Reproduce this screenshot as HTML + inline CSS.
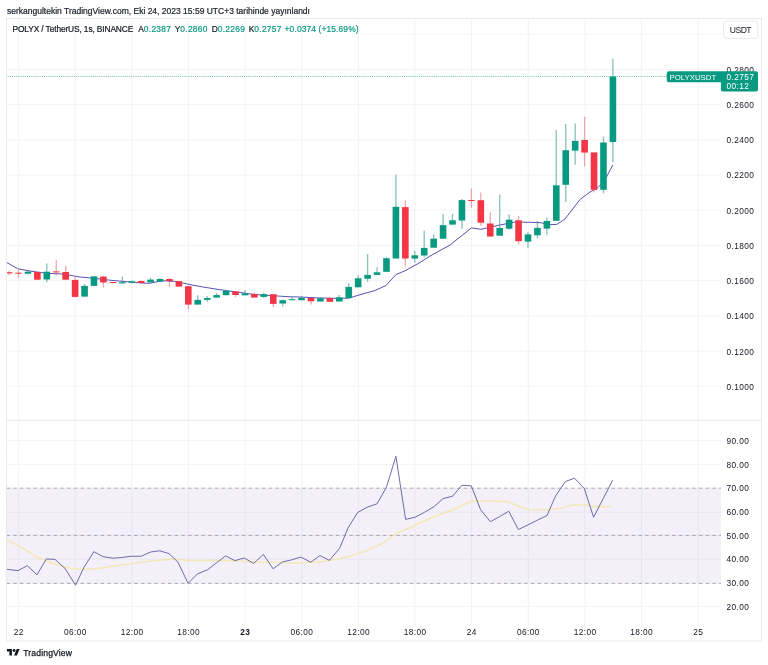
<!DOCTYPE html>
<html><head><meta charset="utf-8"><style>
svg{will-change:transform}
html,body{margin:0;padding:0;background:#fff;width:768px;height:665px;overflow:hidden;position:relative}
.t{position:absolute;font-family:"Liberation Sans",sans-serif;white-space:nowrap;color:#131722}
.g{color:#089981}
</style></head><body>
<svg width="768" height="665" viewBox="0 0 768 665" style="position:absolute;left:0;top:0"><defs><clipPath id="pc"><rect x="7" y="18.5" width="714" height="401.8"/></clipPath><clipPath id="rc"><rect x="7" y="420.3" width="714" height="203.7"/></clipPath></defs><g stroke="#f3f3f3" stroke-width="1"><line x1="18.60" y1="18.5" x2="18.60" y2="626"/><line x1="75.23" y1="18.5" x2="75.23" y2="626"/><line x1="131.86" y1="18.5" x2="131.86" y2="626"/><line x1="188.49" y1="18.5" x2="188.49" y2="626"/><line x1="245.12" y1="18.5" x2="245.12" y2="626"/><line x1="301.75" y1="18.5" x2="301.75" y2="626"/><line x1="358.38" y1="18.5" x2="358.38" y2="626"/><line x1="415.01" y1="18.5" x2="415.01" y2="626"/><line x1="471.64" y1="18.5" x2="471.64" y2="626"/><line x1="528.27" y1="18.5" x2="528.27" y2="626"/><line x1="584.90" y1="18.5" x2="584.90" y2="626"/><line x1="641.53" y1="18.5" x2="641.53" y2="626"/><line x1="698.16" y1="18.5" x2="698.16" y2="626"/><line x1="7" y1="386.30" x2="721" y2="386.30"/><line x1="7" y1="351.10" x2="721" y2="351.10"/><line x1="7" y1="315.90" x2="721" y2="315.90"/><line x1="7" y1="280.70" x2="721" y2="280.70"/><line x1="7" y1="245.50" x2="721" y2="245.50"/><line x1="7" y1="210.30" x2="721" y2="210.30"/><line x1="7" y1="175.10" x2="721" y2="175.10"/><line x1="7" y1="139.90" x2="721" y2="139.90"/><line x1="7" y1="104.70" x2="721" y2="104.70"/><line x1="7" y1="69.50" x2="721" y2="69.50"/><line x1="362" y1="34.30" x2="721" y2="34.30"/><line x1="7" y1="606.40" x2="721" y2="606.40"/><line x1="7" y1="583.40" x2="721" y2="583.40"/><line x1="7" y1="559.10" x2="721" y2="559.10"/><line x1="7" y1="535.40" x2="721" y2="535.40"/><line x1="7" y1="512.20" x2="721" y2="512.20"/><line x1="7" y1="488.20" x2="721" y2="488.20"/><line x1="7" y1="464.40" x2="721" y2="464.40"/><line x1="7" y1="440.60" x2="721" y2="440.60"/></g><rect x="7" y="488.20" width="714" height="95.20" fill="#7e57c2" fill-opacity="0.09"/><g stroke="#787b86" stroke-opacity="0.6" stroke-width="1" stroke-dasharray="3.4 3.322" stroke-dashoffset="0.4"><line x1="7" y1="488.20" x2="721" y2="488.20"/><line x1="7" y1="535.40" x2="721" y2="535.40"/><line x1="7" y1="583.40" x2="721" y2="583.40"/></g><line x1="7" y1="76.5" x2="721" y2="76.5" stroke="#089981" stroke-opacity="0.6" stroke-width="1" stroke-dasharray="1 1.13" stroke-dashoffset="1.43"/><polyline clip-path="url(#pc)" points="6.80,262.50 17.70,268.75 30.00,271.00 40.00,272.50 50.00,273.50 60.00,273.80 70.00,275.30 80.00,277.00 90.00,277.90 100.00,279.00 110.00,280.20 122.00,281.30 130.00,282.00 140.00,282.90 149.40,283.40 158.75,281.40 164.00,280.80 174.40,281.40 182.70,283.00 192.00,285.00 202.50,286.90 213.00,288.60 220.00,289.70 240.00,292.50 255.00,294.50 270.00,295.50 290.00,296.80 300.00,297.00 320.00,298.00 340.00,298.40 349.00,298.10 360.00,294.70 375.00,290.50 386.00,285.50 396.00,274.50 405.00,270.80 420.00,262.50 430.00,256.00 450.00,245.00 471.40,227.90 481.00,229.30 500.00,225.00 515.00,222.00 530.00,222.30 540.00,222.60 550.00,224.70 557.00,224.30 565.00,219.00 580.00,199.50 590.00,192.00 598.00,187.50 605.00,180.00 612.70,165.00" fill="none" stroke="#5a52b4" stroke-width="1" stroke-linejoin="round"/><g clip-path="url(#pc)"><line x1="9.07" y1="270.8" x2="9.07" y2="275" stroke="#e0606e" stroke-opacity="0.55" stroke-width="1.3"/><rect x="5.77" y="272.2" width="6.6" height="1.20" fill="#f23645"/><line x1="18.51" y1="270.3" x2="18.51" y2="277.6" stroke="#e0606e" stroke-opacity="0.55" stroke-width="1.3"/><rect x="15.21" y="272.7" width="6.6" height="1.00" fill="#f23645"/><line x1="27.94" y1="271" x2="27.94" y2="274.5" stroke="#3f9a8a" stroke-opacity="0.62" stroke-width="1.3"/><rect x="24.64" y="271.7" width="6.6" height="2.00" fill="#089981"/><line x1="37.38" y1="271.9" x2="37.38" y2="279.7" stroke="#e0606e" stroke-opacity="0.55" stroke-width="1.3"/><rect x="34.08" y="271.9" width="6.6" height="7.80" fill="#f23645"/><line x1="46.81" y1="263.5" x2="46.81" y2="282.3" stroke="#3f9a8a" stroke-opacity="0.62" stroke-width="1.3"/><rect x="43.51" y="271.7" width="6.6" height="7.80" fill="#089981"/><line x1="56.25" y1="259.9" x2="56.25" y2="275.5" stroke="#e0606e" stroke-opacity="0.55" stroke-width="1.3"/><rect x="52.95" y="271.4" width="6.6" height="1.00" fill="#f23645"/><line x1="65.68" y1="265.8" x2="65.68" y2="279.7" stroke="#e0606e" stroke-opacity="0.55" stroke-width="1.3"/><rect x="62.38" y="272" width="6.6" height="7.70" fill="#f23645"/><line x1="75.12" y1="276" x2="75.12" y2="297.4" stroke="#e0606e" stroke-opacity="0.55" stroke-width="1.3"/><rect x="71.82" y="279.9" width="6.6" height="17.00" fill="#f23645"/><line x1="84.55" y1="283.9" x2="84.55" y2="296.6" stroke="#3f9a8a" stroke-opacity="0.62" stroke-width="1.3"/><rect x="81.25" y="285.9" width="6.6" height="10.70" fill="#089981"/><line x1="93.99" y1="276.2" x2="93.99" y2="286" stroke="#3f9a8a" stroke-opacity="0.62" stroke-width="1.3"/><rect x="90.69" y="276.4" width="6.6" height="9.50" fill="#089981"/><line x1="103.42" y1="275.5" x2="103.42" y2="287.5" stroke="#e0606e" stroke-opacity="0.55" stroke-width="1.3"/><rect x="100.12" y="276.6" width="6.6" height="5.90" fill="#f23645"/><line x1="112.86" y1="282" x2="112.86" y2="283" stroke="#e0606e" stroke-opacity="0.55" stroke-width="1.3"/><rect x="109.56" y="282" width="6.6" height="1.00" fill="#f23645"/><line x1="122.29" y1="276.6" x2="122.29" y2="283.5" stroke="#3f9a8a" stroke-opacity="0.62" stroke-width="1.3"/><rect x="118.99" y="282.3" width="6.6" height="1.20" fill="#089981"/><line x1="131.72" y1="280.5" x2="131.72" y2="283.3" stroke="#3f9a8a" stroke-opacity="0.62" stroke-width="1.3"/><rect x="128.42" y="281.3" width="6.6" height="1.50" fill="#089981"/><line x1="141.16" y1="280.5" x2="141.16" y2="283.5" stroke="#e0606e" stroke-opacity="0.55" stroke-width="1.3"/><rect x="137.86" y="281" width="6.6" height="2.00" fill="#f23645"/><line x1="150.59" y1="277.9" x2="150.59" y2="282.4" stroke="#3f9a8a" stroke-opacity="0.62" stroke-width="1.3"/><rect x="147.29" y="279.6" width="6.6" height="2.80" fill="#089981"/><line x1="160.03" y1="278" x2="160.03" y2="281.6" stroke="#3f9a8a" stroke-opacity="0.62" stroke-width="1.3"/><rect x="156.73" y="279" width="6.6" height="2.60" fill="#089981"/><line x1="169.47" y1="278.2" x2="169.47" y2="286.9" stroke="#e0606e" stroke-opacity="0.55" stroke-width="1.3"/><rect x="166.16" y="279" width="6.6" height="2.10" fill="#f23645"/><line x1="178.90" y1="281.1" x2="178.90" y2="286.6" stroke="#e0606e" stroke-opacity="0.55" stroke-width="1.3"/><rect x="175.60" y="281.1" width="6.6" height="5.50" fill="#f23645"/><line x1="188.34" y1="286" x2="188.34" y2="309.5" stroke="#e0606e" stroke-opacity="0.55" stroke-width="1.3"/><rect x="185.03" y="286.25" width="6.6" height="18.35" fill="#f23645"/><line x1="197.77" y1="295.2" x2="197.77" y2="304.6" stroke="#3f9a8a" stroke-opacity="0.62" stroke-width="1.3"/><rect x="194.47" y="299.9" width="6.6" height="4.70" fill="#089981"/><line x1="207.21" y1="296" x2="207.21" y2="301.7" stroke="#3f9a8a" stroke-opacity="0.62" stroke-width="1.3"/><rect x="203.91" y="298" width="6.6" height="1.90" fill="#089981"/><line x1="216.64" y1="293.1" x2="216.64" y2="297.6" stroke="#3f9a8a" stroke-opacity="0.62" stroke-width="1.3"/><rect x="213.34" y="295.1" width="6.6" height="2.50" fill="#089981"/><line x1="226.08" y1="290.3" x2="226.08" y2="295.2" stroke="#3f9a8a" stroke-opacity="0.62" stroke-width="1.3"/><rect x="222.78" y="290.8" width="6.6" height="4.40" fill="#089981"/><line x1="235.51" y1="291.4" x2="235.51" y2="296.9" stroke="#e0606e" stroke-opacity="0.55" stroke-width="1.3"/><rect x="232.21" y="291.4" width="6.6" height="3.60" fill="#f23645"/><line x1="244.94" y1="290" x2="244.94" y2="295.3" stroke="#3f9a8a" stroke-opacity="0.62" stroke-width="1.3"/><rect x="241.64" y="293.4" width="6.6" height="1.90" fill="#089981"/><line x1="254.38" y1="292.4" x2="254.38" y2="297.6" stroke="#e0606e" stroke-opacity="0.55" stroke-width="1.3"/><rect x="251.08" y="294" width="6.6" height="3.60" fill="#f23645"/><line x1="263.81" y1="292.4" x2="263.81" y2="298.1" stroke="#3f9a8a" stroke-opacity="0.62" stroke-width="1.3"/><rect x="260.51" y="294.2" width="6.6" height="2.70" fill="#089981"/><line x1="273.25" y1="294.2" x2="273.25" y2="307" stroke="#e0606e" stroke-opacity="0.55" stroke-width="1.3"/><rect x="269.95" y="294.2" width="6.6" height="9.70" fill="#f23645"/><line x1="282.69" y1="299.7" x2="282.69" y2="306.5" stroke="#3f9a8a" stroke-opacity="0.62" stroke-width="1.3"/><rect x="279.38" y="300.2" width="6.6" height="3.30" fill="#089981"/><line x1="292.12" y1="296.6" x2="292.12" y2="300.2" stroke="#3f9a8a" stroke-opacity="0.62" stroke-width="1.3"/><rect x="288.82" y="299.2" width="6.6" height="1.00" fill="#089981"/><line x1="301.56" y1="295.8" x2="301.56" y2="300.2" stroke="#3f9a8a" stroke-opacity="0.62" stroke-width="1.3"/><rect x="298.25" y="297.9" width="6.6" height="2.30" fill="#089981"/><line x1="310.99" y1="297.9" x2="310.99" y2="304.4" stroke="#e0606e" stroke-opacity="0.55" stroke-width="1.3"/><rect x="307.69" y="297.9" width="6.6" height="3.35" fill="#f23645"/><line x1="320.43" y1="297.5" x2="320.43" y2="301.5" stroke="#3f9a8a" stroke-opacity="0.62" stroke-width="1.3"/><rect x="317.12" y="298.3" width="6.6" height="3.20" fill="#089981"/><line x1="329.86" y1="297.3" x2="329.86" y2="301.8" stroke="#e0606e" stroke-opacity="0.55" stroke-width="1.3"/><rect x="326.56" y="298.1" width="6.6" height="3.70" fill="#f23645"/><line x1="339.30" y1="295" x2="339.30" y2="301.5" stroke="#3f9a8a" stroke-opacity="0.62" stroke-width="1.3"/><rect x="336.00" y="297.3" width="6.6" height="4.20" fill="#089981"/><line x1="348.73" y1="283.3" x2="348.73" y2="298.1" stroke="#3f9a8a" stroke-opacity="0.62" stroke-width="1.3"/><rect x="345.43" y="286.9" width="6.6" height="11.20" fill="#089981"/><line x1="358.17" y1="275.3" x2="358.17" y2="287.3" stroke="#3f9a8a" stroke-opacity="0.62" stroke-width="1.3"/><rect x="354.87" y="278.3" width="6.6" height="9.00" fill="#089981"/><line x1="367.60" y1="254" x2="367.60" y2="281.7" stroke="#3f9a8a" stroke-opacity="0.62" stroke-width="1.3"/><rect x="364.30" y="274.9" width="6.6" height="3.85" fill="#089981"/><line x1="377.04" y1="267.3" x2="377.04" y2="274.9" stroke="#3f9a8a" stroke-opacity="0.62" stroke-width="1.3"/><rect x="373.74" y="272.3" width="6.6" height="2.60" fill="#089981"/><line x1="386.47" y1="257.2" x2="386.47" y2="271.8" stroke="#3f9a8a" stroke-opacity="0.62" stroke-width="1.3"/><rect x="383.17" y="258.2" width="6.6" height="13.60" fill="#089981"/><line x1="395.91" y1="174.8" x2="395.91" y2="258.5" stroke="#3f9a8a" stroke-opacity="0.62" stroke-width="1.3"/><rect x="392.61" y="206.8" width="6.6" height="51.70" fill="#089981"/><line x1="405.34" y1="200.3" x2="405.34" y2="266.6" stroke="#e0606e" stroke-opacity="0.55" stroke-width="1.3"/><rect x="402.04" y="207.1" width="6.6" height="51.40" fill="#f23645"/><line x1="414.78" y1="250.7" x2="414.78" y2="262.4" stroke="#3f9a8a" stroke-opacity="0.62" stroke-width="1.3"/><rect x="411.48" y="255.3" width="6.6" height="3.30" fill="#089981"/><line x1="424.21" y1="230.4" x2="424.21" y2="257.6" stroke="#3f9a8a" stroke-opacity="0.62" stroke-width="1.3"/><rect x="420.91" y="247.9" width="6.6" height="7.60" fill="#089981"/><line x1="433.65" y1="234.2" x2="433.65" y2="247.7" stroke="#3f9a8a" stroke-opacity="0.62" stroke-width="1.3"/><rect x="430.35" y="238.7" width="6.6" height="9.00" fill="#089981"/><line x1="443.08" y1="213.9" x2="443.08" y2="238.7" stroke="#3f9a8a" stroke-opacity="0.62" stroke-width="1.3"/><rect x="439.78" y="225.15" width="6.6" height="13.55" fill="#089981"/><line x1="452.52" y1="214.1" x2="452.52" y2="224.6" stroke="#3f9a8a" stroke-opacity="0.62" stroke-width="1.3"/><rect x="449.22" y="220.3" width="6.6" height="4.30" fill="#089981"/><line x1="461.95" y1="199" x2="461.95" y2="228.7" stroke="#3f9a8a" stroke-opacity="0.62" stroke-width="1.3"/><rect x="458.65" y="200.1" width="6.6" height="20.40" fill="#089981"/><line x1="471.38" y1="188.4" x2="471.38" y2="207.7" stroke="#e0606e" stroke-opacity="0.55" stroke-width="1.3"/><rect x="468.08" y="200" width="6.6" height="1.00" fill="#f23645"/><line x1="480.82" y1="192.6" x2="480.82" y2="225.7" stroke="#e0606e" stroke-opacity="0.55" stroke-width="1.3"/><rect x="477.52" y="200.2" width="6.6" height="22.50" fill="#f23645"/><line x1="490.25" y1="212.2" x2="490.25" y2="236.5" stroke="#e0606e" stroke-opacity="0.55" stroke-width="1.3"/><rect x="486.95" y="223.5" width="6.6" height="13.00" fill="#f23645"/><line x1="499.69" y1="194.4" x2="499.69" y2="235.7" stroke="#3f9a8a" stroke-opacity="0.62" stroke-width="1.3"/><rect x="496.39" y="227.9" width="6.6" height="7.80" fill="#089981"/><line x1="509.12" y1="214.3" x2="509.12" y2="229.9" stroke="#3f9a8a" stroke-opacity="0.62" stroke-width="1.3"/><rect x="505.82" y="219.7" width="6.6" height="9.00" fill="#089981"/><line x1="518.56" y1="216.1" x2="518.56" y2="244.4" stroke="#e0606e" stroke-opacity="0.55" stroke-width="1.3"/><rect x="515.26" y="220.3" width="6.6" height="20.90" fill="#f23645"/><line x1="528.00" y1="232.1" x2="528.00" y2="247.9" stroke="#3f9a8a" stroke-opacity="0.62" stroke-width="1.3"/><rect x="524.70" y="234.4" width="6.6" height="7.20" fill="#089981"/><line x1="537.43" y1="221" x2="537.43" y2="238.4" stroke="#3f9a8a" stroke-opacity="0.62" stroke-width="1.3"/><rect x="534.13" y="227.9" width="6.6" height="7.40" fill="#089981"/><line x1="546.87" y1="217.4" x2="546.87" y2="234.7" stroke="#3f9a8a" stroke-opacity="0.62" stroke-width="1.3"/><rect x="543.57" y="221" width="6.6" height="7.60" fill="#089981"/><line x1="556.30" y1="130" x2="556.30" y2="220.8" stroke="#3f9a8a" stroke-opacity="0.62" stroke-width="1.3"/><rect x="553.00" y="185.3" width="6.6" height="35.50" fill="#089981"/><line x1="565.74" y1="124" x2="565.74" y2="202.1" stroke="#3f9a8a" stroke-opacity="0.62" stroke-width="1.3"/><rect x="562.44" y="150.2" width="6.6" height="34.60" fill="#089981"/><line x1="575.17" y1="123.5" x2="575.17" y2="164.8" stroke="#3f9a8a" stroke-opacity="0.62" stroke-width="1.3"/><rect x="571.87" y="140.9" width="6.6" height="9.70" fill="#089981"/><line x1="584.61" y1="116.8" x2="584.61" y2="166.6" stroke="#e0606e" stroke-opacity="0.55" stroke-width="1.3"/><rect x="581.31" y="140" width="6.6" height="12.60" fill="#f23645"/><line x1="594.04" y1="152.4" x2="594.04" y2="192.6" stroke="#e0606e" stroke-opacity="0.55" stroke-width="1.3"/><rect x="590.74" y="152.4" width="6.6" height="37.40" fill="#f23645"/><line x1="603.48" y1="136.4" x2="603.48" y2="193.2" stroke="#3f9a8a" stroke-opacity="0.62" stroke-width="1.3"/><rect x="600.18" y="142.5" width="6.6" height="47.30" fill="#089981"/><line x1="612.91" y1="58.7" x2="612.91" y2="162.1" stroke="#3f9a8a" stroke-opacity="0.62" stroke-width="1.3"/><rect x="609.61" y="76.5" width="6.6" height="65.50" fill="#089981"/></g><g clip-path="url(#rc)"><polyline points="6.90,539.60 21.70,547.70 36.10,556.70 54.20,564.00 72.20,568.80 86.60,569.40 101.00,568.00 110.00,566.60 125.60,564.50 141.25,562.20 156.90,560.60 172.50,559.00 188.00,560.60 203.75,560.60 219.40,560.30 235.60,561.00 251.25,561.90 266.90,562.20 282.50,562.50 298.00,563.00 320.00,561.90 340.00,558.75 348.00,556.85 366.00,551.00 384.10,542.60 395.40,533.60 409.00,528.00 424.70,520.80 442.80,513.30 452.50,510.00 471.25,501.00 486.90,501.00 507.20,501.40 526.00,509.20 549.40,509.70 560.00,508.40 572.50,504.90 585.60,504.90 598.60,506.90 611.60,506.20" fill="none" stroke="#f5dc50" stroke-opacity="0.4" stroke-width="1.5" stroke-linejoin="round"/><polyline points="0.00,568.50 9.07,569.60 18.00,570.60 27.40,565.70 37.00,574.80 46.40,558.90 55.00,559.40 65.00,568.40 75.50,585.20 83.90,567.50 93.90,551.70 103.20,556.70 112.80,558.20 121.70,557.50 131.10,556.25 141.25,556.25 150.60,552.00 159.70,550.80 169.00,553.60 178.00,562.20 188.10,583.30 197.50,573.90 207.70,569.70 216.25,563.00 225.60,555.90 234.80,560.60 244.20,558.00 253.60,563.40 263.40,554.40 273.10,568.75 282.50,561.90 291.90,559.80 300.90,557.00 310.60,562.20 320.00,555.60 329.40,560.30 339.50,548.50 348.00,528.00 357.50,512.60 367.20,507.20 377.00,503.80 386.40,487.40 395.90,456.30 405.60,519.40 415.30,517.10 424.70,512.20 434.20,506.50 443.20,498.50 452.50,496.25 461.90,485.30 471.25,485.80 480.60,509.70 490.30,521.70 499.70,516.50 508.75,511.25 518.40,529.50 527.90,524.90 537.70,520.00 547.00,515.50 555.60,495.90 565.40,481.50 574.50,478.20 584.30,488.60 593.60,517.30 603.70,497.60 612.70,480.20" fill="none" stroke="#7069a8" stroke-width="1" stroke-linejoin="round"/></g><g stroke="#e9e9e9" stroke-width="1" fill="none"><rect x="6.5" y="18.5" width="755" height="622.5"/><line x1="7" y1="420.3" x2="761" y2="420.3"/></g><g font-family="Liberation Sans, sans-serif" font-size="8.3" letter-spacing="0.4" fill="#131722"><text x="726.6" y="390.02">0.1000</text><text x="726.6" y="354.74">0.1200</text><text x="726.6" y="319.46">0.1400</text><text x="726.6" y="284.18">0.1600</text><text x="726.6" y="248.90">0.1800</text><text x="726.6" y="213.62">0.2000</text><text x="726.6" y="178.34">0.2200</text><text x="726.6" y="143.06">0.2400</text><text x="726.6" y="107.78">0.2600</text><text x="726.6" y="72.50">0.2800</text><text x="726.6" y="609.52">20.00</text><text x="726.6" y="585.86">30.00</text><text x="726.6" y="562.20">40.00</text><text x="726.6" y="538.54">50.00</text><text x="726.6" y="514.88">60.00</text><text x="726.6" y="491.22">70.00</text><text x="726.6" y="467.56">80.00</text><text x="726.6" y="443.90">90.00</text></g><g font-family="Liberation Sans, sans-serif" font-size="8.3" letter-spacing="0.4" fill="#131722" text-anchor="middle"><text x="18.80" y="635.2">22</text><text x="75.43" y="635.2">06:00</text><text x="132.06" y="635.2">12:00</text><text x="188.69" y="635.2">18:00</text><text x="245.32" y="635.2" font-weight="bold">23</text><text x="301.95" y="635.2">06:00</text><text x="358.58" y="635.2">12:00</text><text x="415.21" y="635.2">18:00</text><text x="471.84" y="635.2">24</text><text x="528.47" y="635.2">06:00</text><text x="585.10" y="635.2">12:00</text><text x="641.73" y="635.2">18:00</text><text x="698.36" y="635.2">25</text></g><path d="M668.75 71.25 H756 a2 2 0 0 1 2 2 V89.6 a2 2 0 0 1 -2 2 H722.9 a2 2 0 0 1 -2 -2 V82.2 H668.75 a2 2 0 0 1 -2 -2 V73.25 a2 2 0 0 1 2 -2 Z" fill="#089981"/><g font-family="Liberation Sans, sans-serif" fill="#ffffff"><text x="669.5" y="79.8" font-size="7.8">POLYXUSDT</text><g font-size="8.3" letter-spacing="0.4"><text x="726.6" y="79.8">0.2757</text><text x="726.6" y="89">00:12</text></g></g><rect x="723.5" y="21.1" width="34.5" height="17.2" rx="3" fill="#ffffff" stroke="#e9e9e9" stroke-width="1"/><text x="729.8" y="32.6" font-family="Liberation Sans, sans-serif" font-size="8.6" letter-spacing="-0.55" fill="#131722">USDT</text><g transform="translate(6.9,647.6) scale(0.358)" fill="#131722"><path d="M14 22H7V11H0V4h14v18zM28 22h-8l7.5-18h8L28 22z"/><circle cx="20" cy="8" r="4"/></g></svg>
<svg width="768" height="665" style="position:absolute;left:0;top:0" font-family="Liberation Sans, sans-serif" fill="#131722">
<text x="7" y="13.9" font-size="8.5" stroke="#2a2e39" stroke-width="0.22">serkangultekin TradingView.com, Eki 24, 2023 15:59 UTC+3 tarihinde yayınlandı</text>
<g font-size="8.4" letter-spacing="-0.1" stroke-width="0.2" stroke="#131722"><text x="12.5" y="32" letter-spacing="-0.13">POLYX / TetherUS, 1s, BINANCE</text>
<text x="138.3" y="32">A<tspan fill="#089981" stroke="#089981" letter-spacing="0.3">0.2387</tspan></text>
<text x="174.8" y="32">Y<tspan fill="#089981" stroke="#089981" letter-spacing="0.3">0.2860</tspan></text>
<text x="211.8" y="32">D<tspan fill="#089981" stroke="#089981" letter-spacing="0.3">0.2269</tspan></text>
<text x="248.8" y="32">K<tspan fill="#089981" stroke="#089981" letter-spacing="0.3">0.2757</tspan></text>
<text x="284.6" y="32" fill="#089981" stroke="#089981" letter-spacing="0.14">+0.0374 (+15.69%)</text></g>
<text x="23.2" y="656" font-size="8.6" letter-spacing="0.15" stroke="#131722" stroke-width="0.25">TradingView</text>
</svg>
</body></html>
